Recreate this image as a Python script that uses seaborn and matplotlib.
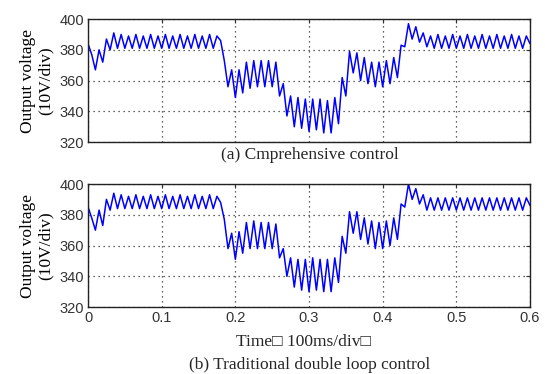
import numpy as np
import pandas as pd
import matplotlib
matplotlib.use("Agg")
import matplotlib.pyplot as plt
import seaborn as sns

# sample times (s), one reading every 5 ms
time_s = np.round(np.arange(0, 0.6001, 0.005), 3)

# (a) comprehensive control, output voltage (V)
volt_a = (
    [384, 377, 367, 380, 372, 387, 380, 391, 381]
    + [390, 381, 389, 381, 390, 381, 389, 381, 390, 381, 389, 381, 390, 381, 389, 381,
       390, 381, 389, 381, 390, 381, 389, 381, 390, 381, 389]
    + [386, 373, 356, 367, 349, 367, 352, 372, 355, 373, 356, 373, 356, 373, 356, 372,
       350, 358, 337, 350, 330, 349, 329, 348, 327, 348, 328, 348, 326, 347, 326, 349,
       332, 362, 350, 379, 365, 378, 360, 375, 358, 372, 356, 372, 356, 373, 358, 375,
       362, 383, 382, 397, 387, 395, 385, 391, 382]
    + [389, 381, 390, 381, 389, 381, 390, 381, 389, 381, 390, 381, 389, 381, 390, 381,
       389, 381, 390, 381, 389, 381, 390, 381, 389, 381, 389, 384]
)

# (b) traditional double loop control, output voltage (V)
volt_b = (
    [385, 378, 370, 383, 373, 390, 383, 394, 384]
    + [393, 384, 392, 384, 393, 384, 392, 384, 393, 384, 392, 384, 393, 384, 392, 384,
       393, 384, 392, 384, 393, 384, 392, 384, 393, 384, 392]
    + [388, 377, 358, 368, 351, 369, 355, 375, 358, 376, 358, 375, 358, 375, 358, 374,
       352, 358, 340, 352, 333, 351, 331, 351, 330, 352, 331, 351, 330, 351, 330, 352,
       336, 366, 355, 382, 368, 382, 364, 378, 361, 376, 358, 375, 358, 376, 360, 378,
       364, 387, 385, 400, 390, 397, 387, 393, 383]
    + [391, 383, 391, 383, 391, 383, 391, 383, 391, 383, 391, 383, 391, 383, 391, 383,
       391, 383, 391, 383, 391, 383, 391, 383, 391, 383, 391, 386]
)

x_ticks = [0, 0.1, 0.2, 0.3, 0.4, 0.5, 0.6]
x_tick_labels = ["0", "0.1", "0.2", "0.3", "0.4", "0.5", "0.6"]
y_ticks = [320, 340, 360, 380, 400]

caption_a = "(a) Cmprehensive control"
caption_b = "(b) Traditional double loop control"
x_label = "Time\u25a1 100ms/div\u25a1"
y_label = "Output voltage\n(10V/div)"

sns.set_style("white")
plt.rcParams["font.family"] = ["Liberation Sans", "DejaVu Sans"]

fig = plt.figure(figsize=(5.45, 3.74), dpi=100)
ax_a = fig.add_axes([0.1615, 0.620, 0.811, 0.329])
ax_b = fig.add_axes([0.1615, 0.179, 0.811, 0.329])

serif = ["Liberation Serif", "DejaVu Serif"]

for ax, vals in ((ax_a, volt_a), (ax_b, volt_b)):
    df = pd.DataFrame({"t": time_s, "v": vals})
    sns.lineplot(data=df, x="t", y="v", ax=ax, color="#0000ff", linewidth=1.1)
    ax.set_xlim(0, 0.6)
    ax.set_ylim(320, 400)
    ax.set_xticks(x_ticks)
    ax.set_yticks(y_ticks)
    ax.grid(True, linestyle=(0, (1, 3)), color="#333333", linewidth=0.9)
    ax.tick_params(direction="in", length=3, top=True, right=True,
                   labelsize=10.5, colors="#333333", pad=3)
    for s in ax.spines.values():
        s.set_color("#222222")
        s.set_linewidth(1.0)
    ax.set_xlabel("")
    ax.set_ylabel(y_label, family=serif, fontsize=12.5, linespacing=1.1,
                  labelpad=4, color="black")

ax_a.set_xticklabels([])
ax_b.set_xticklabels(x_tick_labels)

fig.text(0.569, 0.585, caption_a, family=serif, fontsize=12.5, ha="center", va="center")
fig.text(0.557, 0.085, x_label, family=serif, fontsize=12.5, ha="center", va="center")
fig.text(0.569, 0.024, caption_b, family=serif, fontsize=12.5, ha="center", va="center")

fig.savefig("out.png", dpi=100)
